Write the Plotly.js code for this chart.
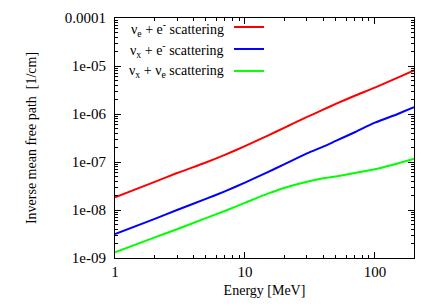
<!DOCTYPE html>
<html>
<head>
<meta charset="utf-8">
<script src="https://cdn.plot.ly/plotly-3.0.1.min.js"></script>
<style>html,body{margin:0;padding:0;background:#fff;}#chart{width:436px;height:305px;}</style>
</head>
<body>
<div id="chart"></div>
<script>
var energy = [1, 2, 3, 5, 7, 10, 15, 20, 30, 40, 50, 70, 100, 150, 200];
var nueElectron = [1.845e-8, 3.80e-8, 5.89e-8, 9.77e-8, 1.41e-7, 2.14e-7, 3.55e-7, 5.13e-7, 8.71e-7, 1.23e-6, 1.62e-6, 2.40e-6, 3.55e-6, 5.75e-6, 8.13e-6];
var nuxElectron = [3.16e-9, 6.46e-9, 1.0e-8, 1.70e-8, 2.45e-8, 3.72e-8, 6.17e-8, 8.91e-8, 1.51e-7, 2.09e-7, 2.75e-7, 4.17e-7, 6.61e-7, 1.0e-6, 1.38e-6];
var nuxNue = [1.32e-9, 2.66e-9, 3.98e-9, 6.76e-9, 9.55e-9, 1.41e-8, 2.19e-8, 2.88e-8, 3.89e-8, 4.57e-8, 5.01e-8, 5.89e-8, 7.08e-8, 9.33e-8, 1.17e-7];
var seriesNames = ["ν<sub>e</sub> + e<sup>-</sup> scattering", "ν<sub>x</sub> + e<sup>-</sup> scattering", "ν<sub>x</sub> + ν<sub>e</sub> scattering"];
var xTickVals = [1, 10, 100];
var xTickText = ["1", "10", "100"];
var yTickVals = [1e-9, 1e-8, 1e-7, 1e-6, 1e-5, 1e-4];
var yTickText = ["1e-09", "1e-08", "1e-07", "1e-06", "1e-05", "0.0001"];

function minors(lo, hi) {
  var out = [];
  for (var d = lo; d < hi; d++) {
    for (var k = 2; k <= 9; k++) out.push(k * Math.pow(10, d));
  }
  return out;
}

var colors = ["#ff0000", "#0000ff", "#00ff00"];
var ys = [nueElectron, nuxElectron, nuxNue];
var traces = ys.map(function (y, i) {
  return {x: energy, y: y, mode: "lines", type: "scatter", name: " ",
          line: {color: colors[i], width: 2, shape: "spline", smoothing: 0.6}};
});

var fam = "Liberation Serif, Times New Roman, serif";
var tickFont = {family: fam, size: 15, color: "#000"};
var titleFont = {family: fam, size: 14, color: "#000"};
var legFont = {family: fam, size: 14, color: "#000"};
var annotations = seriesNames.map(function (t, i) {
  return {text: t, xref: "paper", yref: "paper", x: (226 - 115) / 299, y: 1 - (11 + 21.5 * i) / 241,
          xanchor: "right", yanchor: "middle", showarrow: false, font: legFont};
});

var layout = {
  width: 436, height: 305,
  margin: {l: 115, r: 22, t: 17, b: 47},
  paper_bgcolor: "#fff", plot_bgcolor: "#fff",
  font: tickFont,
  showlegend: true,
  legend: {x: (229 - 115) / 299, y: 1 + 6 / 241, xanchor: "left", yanchor: "top",
           bgcolor: "rgba(0,0,0,0)", font: {family: fam, size: 14.6}, tracegroupgap: 0},
  annotations: annotations,
  xaxis: {
    type: "log", range: [0, Math.log10(200)],
    tickmode: "array", tickvals: xTickVals, ticktext: xTickText,
    ticks: "inside", ticklen: 6, tickcolor: "#000",
    showline: true, linecolor: "#000", linewidth: 1, mirror: "ticks",
    showgrid: false, zeroline: false,
    minor: {tickmode: "array", tickvals: minors(0, 3), ticks: "inside", ticklen: 3, tickcolor: "#000", showgrid: false},
    title: {text: "Energy [MeV]", font: titleFont, standoff: 6},
    tickfont: tickFont
  },
  yaxis: {
    type: "log", range: [-9, -4],
    tickmode: "array", tickvals: yTickVals, ticktext: yTickText,
    ticks: "inside", ticklen: 6, tickcolor: "#000",
    ticklabelstandoff: 5,
    showline: true, linecolor: "#000", linewidth: 1, mirror: "ticks",
    showgrid: false, zeroline: false,
    minor: {tickmode: "array", tickvals: minors(-9, -4), ticks: "inside", ticklen: 3, tickcolor: "#000", showgrid: false},
    title: {text: "Inverse mean free path  [1/cm]", font: titleFont, standoff: 24},
    tickfont: tickFont
  }
};

Plotly.newPlot("chart", traces, layout, {staticPlot: true, displayModeBar: false});
</script>
</body>
</html>
